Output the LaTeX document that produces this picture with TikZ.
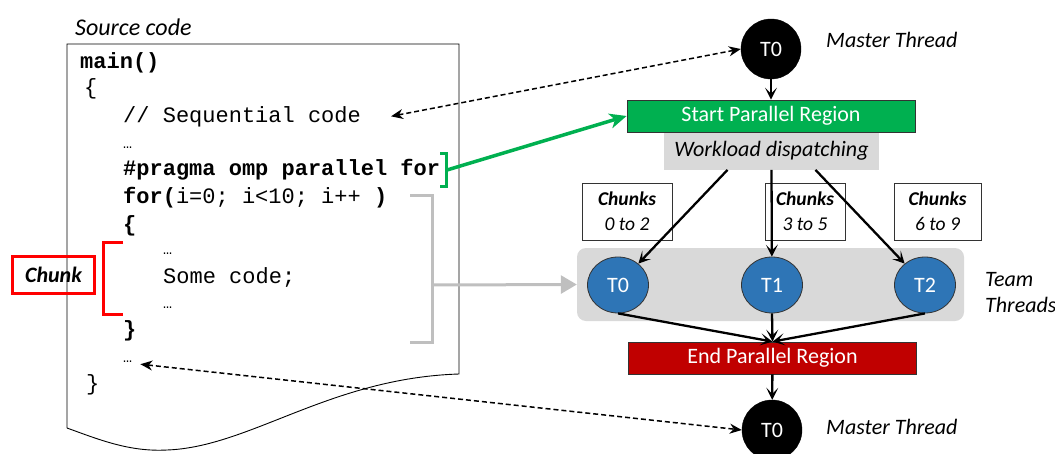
\documentclass[tikz,border=0pt]{standalone}
\usepackage{fontspec}
\setmainfont{Carlito}
\newfontfamily\codefont{Liberation Mono}
\usetikzlibrary{arrows.meta,shapes.geometric}
\definecolor{mygreen}{HTML}{00B050}
\definecolor{myred}{HTML}{C00000}
\definecolor{myblue}{HTML}{2E75B6}
\definecolor{mygrey}{HTML}{D9D9D9}
\definecolor{brgrey}{HTML}{BFBFBF}
\tikzset{
  code/.style={anchor=base west,inner sep=0pt,font=\codefont\fontsize{22}{24}\selectfont},
  dots/.style={anchor=base west,inner sep=0pt,font=\codefont\fontsize{15}{16}\selectfont},
  lbl/.style={font=\fontsize{22}{26}\selectfont\itshape,anchor=west,inner sep=0pt},
  master/.style={circle,fill=black,draw=black,minimum size=60pt,inner sep=0pt,text=white,font=\fontsize{22}{24}\selectfont},
  team/.style={ellipse,fill=myblue,draw=black!80,line width=0.8pt,minimum width=61pt,minimum height=56pt,inner sep=0pt,text=white,font=\fontsize{22}{24}\selectfont},
  region/.style={draw=black!80,line width=0.8pt,minimum width=288pt,minimum height=32pt,inner sep=0pt,text=white,font=\fontsize{22}{24}\selectfont},
  chunkbox/.style={draw=black!80,line width=0.8pt,fill=white,minimum height=57pt,inner sep=0pt,align=center,font=\fontsize{19.5}{25}\selectfont\itshape},
  flow/.style={line width=2.3pt,-{Stealth[length=12pt,width=12pt,inset=6pt]}},
  dsh/.style={line width=1.5pt,dash pattern=on 5pt off 3pt,{Stealth[length=12pt,width=10pt]}-{Stealth[length=12pt,width=10pt]}},
}
\begin{document}
\begin{tikzpicture}[x=1pt,y=-1pt]
\useasboundingbox (0,0) rectangle (1055,453);
% source page
\draw[line width=0.9pt] (67,428) -- (67,44) -- (459,44) -- (459,374)
  .. controls (330,378) and (250,447) .. (167,450)
  .. controls (130,452) and (100,440) .. (67,428);
\node[font=\fontsize{24}{26}\selectfont\itshape,anchor=west,inner sep=0pt] (src) at (75,27) {Source code};
% code lines
\node[code] (l1) at (80,68) {\bfseries main()};
\node[code] (l2) at (84,94) {\{};
\node[code] (l3) at (123,122) {// Sequential code};
\node[dots] (l4) at (123,148) {…};
\node[code] (l5) at (123,175) {\bfseries \#pragma omp parallel for};
\node[code] (l6) at (123,203) {\textbf{for(}i=0; i<10; i++ \textbf{)}};
\node[code] (l7) at (123,231) {\bfseries \{};
\node[dots] (l8) at (163,254) {…};
\node[code] (l9) at (163,283) {Some code;};
\node[dots] (l10) at (163,308) {…};
\node[code] (l11) at (123,336) {\bfseries \}};
\node[dots] (l12) at (123,362) {…};
\node[code] (l13) at (86,390) {\}};
% brackets
\coordinate (gb) at (447,170);
\draw[mygreen,line width=3pt] (440,153) -- (446,153) -- (446,186) -- (440,186);
\coordinate (grb) at (432,285);
\draw[brgrey,line width=3pt] (410,195) -- (432,195) -- (432,342) -- (410,342);
\draw[red,line width=3pt] (123,242) -- (103,242) -- (103,314) -- (123,314);
\node[draw=red,line width=3pt,minimum width=82pt,minimum height=37pt,inner sep=0pt,font=\fontsize{22}{24}\selectfont\bfseries\itshape] (chunk) at (53.5,275) {Chunk};
% right side
\node[master] (m1) at (771,49) {T0};
\node[lbl] (mt1) at (826,40) {Master Thread};
\node[region,fill=mygreen] (start) at (771,116) {Start Parallel Region};
\node[fill=mygrey,minimum width=215pt,minimum height=37pt,inner sep=0pt,font=\fontsize{22}{24}\selectfont\itshape,anchor=north] (wd) at (771.5,132.5) {Workload dispatching};
\node[fill=mygrey,rounded corners=9pt,minimum width=387pt,minimum height=73pt,inner sep=0pt] (team) at (770.5,284.5) {};
\node[chunkbox,minimum width=90pt] (c1) at (627,211.5) {\bfseries Chunks\\0 to 2};
\node[chunkbox,minimum width=80pt] (c2) at (805,211.5) {\bfseries Chunks\\3 to 5};
\node[chunkbox,minimum width=87pt] (c3) at (937.5,211.5) {\bfseries Chunks\\6 to 9};
\node[team] (t0) at (618,285) {T0};
\node[team] (t1) at (772,285) {T1};
\node[team] (t2) at (925,285) {T2};
\node[lbl] (tt1) at (985,280) {Team};
\node[lbl] (tt2) at (985,305) {Threads};
\node[region,fill=myred] (end) at (772.5,358) {End Parallel Region};
\node[master] (m2) at (772,430) {T0};
\node[lbl] (mt2) at (826,427) {Master Thread};
% connectors
\draw[flow] (m1) -- (start);
\draw[flow] (wd.south) ++(-44,0) coordinate (w0) -- (t0);
\draw[flow] (wd.south) -- (t1);
\draw[flow] (wd.south) ++(44,0) coordinate (w2) -- (t2);
\draw[flow] (t0.south) -- (end.north);
\draw[flow] (t1.south) -- (end.north);
\draw[flow] (t2.south) -- (end.north);
\draw[flow] (end) -- (m2);
\draw[mygreen,line width=3.5pt,-{Stealth[length=17pt,width=15pt,inset=5pt]}] (gb) -- (start.west);
\draw[brgrey,line width=3pt,-{Triangle[length=16pt,width=18pt]}] (grb) -- (team.west);
\draw[dsh] (l3.east) ++(30,0) coordinate (d1) -- (m1.west);
\draw[dsh] (l12.east) ++(8,3) coordinate (d2) -- (m2.west);
\end{tikzpicture}
\end{document}
